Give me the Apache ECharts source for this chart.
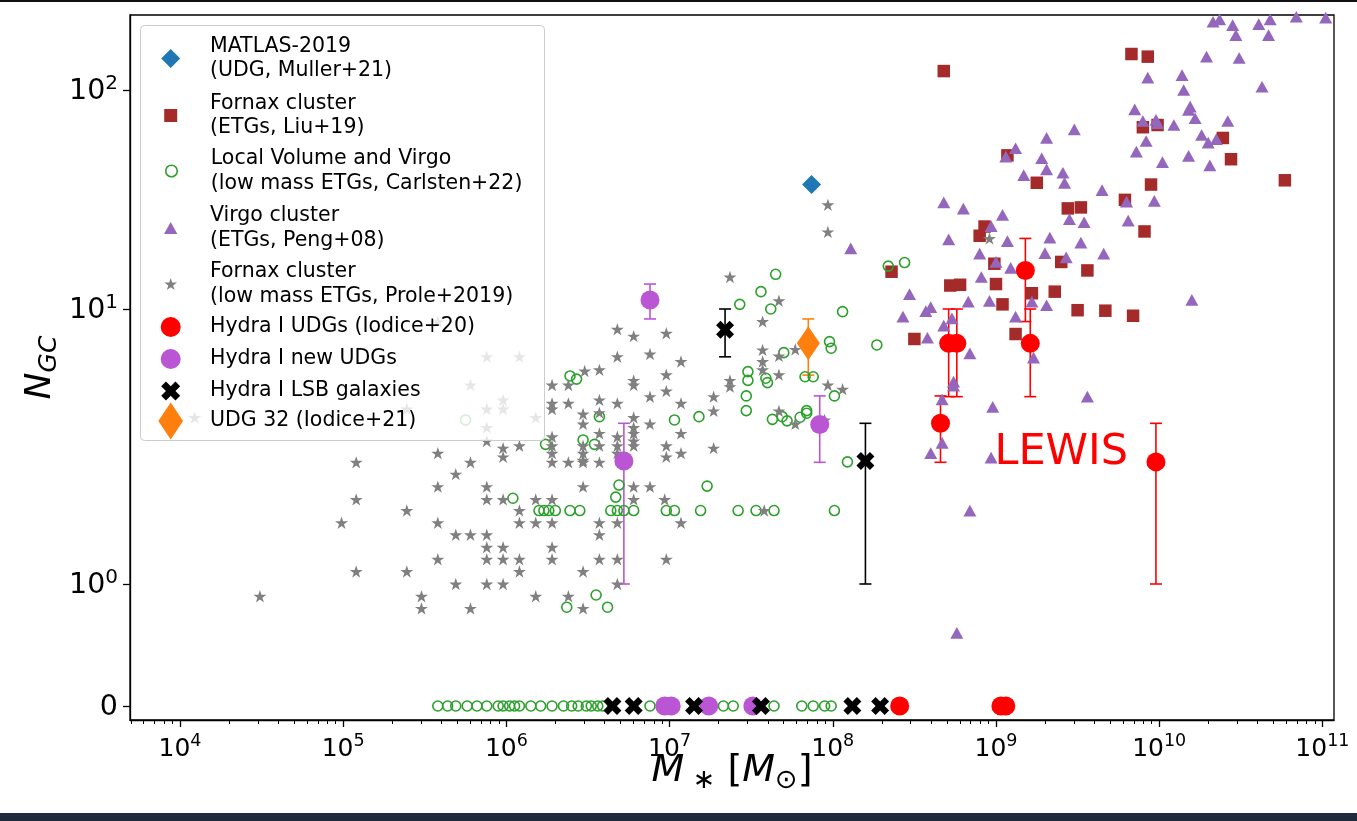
<!DOCTYPE html>
<html><head><meta charset="utf-8">
<script src="https://cdn.jsdelivr.net/npm/echarts@6/dist/echarts.min.js"></script>
<style>html,body{margin:0;padding:0;background:#fff}#c{width:1357px;height:821px}</style>
</head><body><div id="c"></div><script>
// ---------------- data (x = log10 of stellar mass, y = number of GCs) ----------------
const seriesNames = [
  'MATLAS-2019\n(UDG, Muller+21)',
  'Fornax cluster\n(ETGs, Liu+19)',
  'Local Volume and Virgo\n(low mass ETGs, Carlsten+22)',
  'Virgo cluster\n(ETGs, Peng+08)',
  'Fornax cluster\n(low mass ETGs, Prole+2019)',
  'Hydra I UDGs (Iodice+20)',
  'Hydra I new UDGs',
  'Hydra I LSB galaxies',
  'UDG 32 (Iodice+21)'
];

const matlasLogM = [7.87];
const matlasN = [37];

const liuLogM = [8.68,9.83,9.93,10.77,10.44,10.39,9.90,9.99,9.95,9.79,9.91,9.25,9.44,9.52,9.07,8.93,8.90,8.99,9.40,9.56,8.72,8.78,9.00,9.04,9.22,9.36,9.50,9.67,9.84,8.36,8.50,9.12];
const liuN = [122,146,142,38.7,48.3,60.4,67.6,69.2,37.0,31.5,22.6,37.7,28.8,29.1,50.3,23.8,21.6,16.1,16.4,15.0,12.8,12.9,13.0,10.5,11.8,12.0,9.9,9.86,9.45,14.8,7.78,8.11];

const carlstenLogM = [6.39,6.43,6.57,6.24,6.47,6.54,6.69,6.67,6.04,
  6.20,6.23,6.26,6.30,6.39,6.45,6.64,6.68,6.72,6.78,6.98,7.03,7.19,7.42,7.53,7.64,8.01,
  6.55,6.37,6.62,5.75,
  7.65,7.56,7.43,7.62,8.06,8.34,8.44,7.98,7.99,7.70,8.27,7.48,7.48,7.59,7.60,7.83,7.88,7.47,7.47,8.01,7.18,7.03,7.63,7.69,7.72,7.80,7.84,7.84,8.09,7.23,
  5.58,5.64,5.69,5.76,5.82,5.88,5.95,5.98,6.02,6.05,6.08,6.15,6.21,6.28,6.35,6.40,6.44,6.49,6.52,6.56,6.59,6.88,7.33,7.39,7.64,7.81,7.88,7.95,7.99];
const carlstenN = [5.71,5.56,4.06,3.22,3.34,3.22,2.29,2.07,2.05,
  1.85,1.85,1.85,1.85,1.85,1.85,1.85,1.85,1.85,1.85,1.85,1.85,1.85,1.85,1.85,1.85,1.85,
  0.91,0.81,0.81,3.95,
  14.4,12.0,10.5,10.0,9.78,15.7,16.3,7.61,7.20,6.94,7.40,5.92,5.50,5.60,5.40,5.67,5.67,4.83,4.27,4.83,4.06,3.95,3.97,4.06,3.92,4.04,4.18,4.27,2.78,2.27,
  0,0,0,0,0,0,0,0,0,0,0,0,0,0,0,0,0,0,0,0,0,0,0,0,0,0,0,0,0];

const pengLogM = [10.33,10.37,10.45,10.47,10.61,10.68,10.67,10.84,11.02,10.29,
  10.49,9.93,10.14,10.15,10.63,9.85,10.19,10.18,9.90,9.98,
  9.99,10.09,10.22,10.42,10.26,10.30,10.35,9.92,9.86,10.02,
  10.18,10.31,9.48,9.31,9.12,9.06,9.28,9.31,9.41,9.42,
  9.17,9.65,9.80,9.97,9.81,9.45,9.54,8.68,8.80,9.04,
  8.97,8.71,9.07,9.33,9.52,9.30,9.43,9.66,8.90,9.00,
  9.09,8.91,8.47,8.60,8.57,8.43,8.83,8.96,9.22,9.31,
  9.12,8.73,8.68,8.58,10.20,8.84,8.74,8.74,8.67,8.98,
  9.56,8.67,8.60,8.97,9.23,8.84,8.76,8.11];
const pengN = [205,210,198,178,200,210,178,216,214,142,
  140,114,117,100,103.5,81.6,83.9,81.1,72.2,73.0,
  70.5,69.2,74.3,72.2,62.3,57.5,59.6,58.5,52.3,46.8,
  50.0,45.3,66.1,60.5,54.2,49.6,48.8,43.4,41.9,37.7,
  40.9,34.9,30.9,31.2,25.3,25.7,24.9,30.7,28.7,26.9,
  23.9,20.8,20.4,21.2,20.1,18.0,17.2,17.9,17.9,16.4,
  15.4,14.0,11.7,10.2,9.83,9.38,10.8,10.9,10.8,10.4,
  9.38,9.25,8.7,7.86,11.0,6.9,5.44,5.26,4.69,4.41,
  4.80,3.26,2.99,2.88,6.65,1.85,0.60,18.9];

const proleLogM = [6.68,6.78,6.68,6.57,6.48,6.78,6.78,6.28,6.38,6.28,
  6.38,6.57,6.68,6.28,6.47,6.57,6.78,6.78,6.78,6.78,
  6.78,6.47,6.57,6.68,6.28,6.08,5.98,5.98,6.28,6.28,
  6.47,6.47,6.47,6.57,6.68,6.68,5.58,5.08,5.78,6.28,
  6.38,6.47,6.57,5.69,5.58,5.88,6.47,6.78,5.08,5.88,
  5.98,6.18,6.28,6.78,5.39,6.08,4.99,5.58,6.08,6.18,
  6.28,6.57,6.68,5.69,5.78,5.88,6.57,5.88,5.98,6.28,
  5.58,5.88,5.98,6.08,6.28,6.57,6.68,5.08,5.39,6.08,
  6.47,5.69,5.88,5.98,6.68,4.49,5.48,6.18,6.38,5.48,
  5.78,6.47,
  5.58,5.88,6.08,5.78,5.98,5.98,5.88,5.88,6.18,5.39,5.88,4.09,
  7.97,7.97,7.37,7.67,7.57,6.98,6.88,7.07,7.57,7.67,
  7.77,6.98,7.57,7.57,7.67,7.37,7.37,7.97,8.06,6.88,
  6.98,7.27,7.27,7.07,7.67,7.77,7.95,6.88,7.07,6.98,
  6.98,7.07,7.27,6.88,6.97,7.07,6.98,7.58,8.96];
const proleN = [8.44,7.97,6.71,6.01,5.95,5.50,5.29,5.29,5.29,4.54,
  4.54,4.67,4.54,4.33,4.15,4.20,4.03,3.71,3.53,3.31,
  3.18,3.82,3.53,3.43,3.43,3.18,3.12,2.90,3.18,2.99,
  3.18,2.99,2.82,3.18,3.18,2.99,2.99,2.77,2.77,2.77,
  2.77,2.77,2.77,2.51,2.26,2.26,2.26,2.26,2.03,2.03,
  2.03,2.03,2.03,2.03,1.85,1.85,1.67,1.67,1.67,1.67,
  1.67,1.67,1.67,1.51,1.51,1.51,1.51,1.36,1.36,1.36,
  1.23,1.23,1.23,1.23,1.23,1.23,1.23,1.11,1.11,1.11,
  1.11,1.00,1.00,1.00,1.00,0.90,0.90,0.90,0.90,0.80,
  0.80,0.80,
  8.99,6.71,6.71,5.29,4.67,4.33,4.33,3.71,4.03,4.33,3.31,4.03,
  29.9,22.5,14.0,10.9,9.0,8.16,6.86,6.44,7.10,6.75,
  7.13,5.77,6.44,6.01,5.77,5.50,5.22,5.29,5.11,4.80,
  5.03,4.80,4.26,4.54,4.26,3.82,3.95,3.82,3.53,3.18,
  2.90,2.99,3.12,2.26,2.03,1.67,1.23,1.85,21.0];

const hydraUdgLogM = [8.66,8.71,8.76,9.18,9.21,9.98,8.41,9.03,9.06];
const hydraUdgN    = [3.84,7.5,7.5,15,7.5,2.78,0,0,0];
const hydraUdgLo   = [2.77,4.8,4.8,9,4.8,1.0,null,null,null];
const hydraUdgHi   = [4.83,10,10,21,10,3.84,null,null,null];

const newUdgLogM = [6.88,6.72,7.92,6.97,7.01,7.24,7.51];
const newUdgN    = [11,2.8,3.8,0,0,0,0];
const newUdgLo   = [9.2,1.0,2.77,null,null,null,null];
const newUdgHi   = [13,3.84,4.83,null,null,null,null];

const lsbLogM = [7.34,8.20,6.65,6.78,7.15,7.56,8.12,8.29];
const lsbN    = [8.4,2.8,0,0,0,0,0,0];
const lsbLo   = [6.7,1.0,null,null,null,null,null,null];
const lsbHi   = [10,3.84,null,null,null,null,null,null];

const udg32LogM = [7.85];
const udg32N    = [7.5];
const udg32Lo   = [5.75];
const udg32Hi   = [9.2];

const xTickExponents = [4,5,6,7,8,9,10,11];
const yTickCounts = [0,1,10,100];
const annotationText = 'LEWIS';
const annotationLogM = [9.40];
const annotationN = [3.0];

// ---------------- scales ----------------
// y axis: linear between 0 and 1, then logarithmic decades (as drawn in the figure)
const DEC1 = 275/122, DEC2 = 219/122;
function yT(n){ if (n <= 1) return n; const l = Math.log10(n); return l <= 1 ? 1 + l*DEC1 : 1 + DEC1 + (l-1)*DEC2; }
const Y_MIN = -14/122, Y_MAX = 691/122;
const X_MIN = 3.694, X_MAX = 11.071;

const pts = (xs, ns) => xs.map((x,i) => [x, yT(ns[i])]);
const errs = (xs, lo, hi) => xs.map((x,i) => lo[i]==null ? null : [x, yT(lo[i]), yT(hi[i])]).filter(Boolean);

const minorTicks = [];
for (let n = 3; n <= 11; n++) for (let k = 2; k <= 9; k++) { const v = n + Math.log10(k); if (v > X_MIN && v < X_MAX) minorTicks.push(v); }
const yTickVals = yTickCounts.map(yT);

// ---------------- symbols ----------------
const SQUARE = 'path://M0,0 L1,0 L1,1 L0,1 Z';
const DIAMOND = 'path://M0,-1 L1,0 L0,1 L-1,0 Z';
const THIN_DIAMOND = 'path://M0,-1.45 L0.97,0 L0,1.45 L-0.97,0 Z';
const TRIANGLE = 'path://M0.5,0 L1,0.9 L0,0.9 Z';
const STAR = 'path://M0,-1 L0.2245,-0.309 L0.951,-0.309 L0.363,0.118 L0.588,0.809 L0,0.382 L-0.588,0.809 L-0.363,0.118 L-0.951,-0.309 L-0.2245,-0.309 Z';
const XMARK = 'path://M-1,-0.5 L-0.5,-1 L0,-0.5 L0.5,-1 L1,-0.5 L0.5,0 L1,0.5 L0.5,1 L0,0.5 L-0.5,1 L-1,0.5 L-0.5,0 Z';

const FONT = 'DejaVu Sans';
const xTickRich = {
  b: {fontFamily: FONT, fontSize: 25, color: '#000', lineHeight: 30, verticalAlign: 'bottom'},
  s: {fontFamily: FONT, fontSize: 17.5, color: '#000', lineHeight: 14, verticalAlign: 'top'}
};
const yTickRich = {
  b: {fontFamily: FONT, fontSize: 28.5, color: '#000', lineHeight: 33, verticalAlign: 'bottom'},
  s: {fontFamily: FONT, fontSize: 20, color: '#000', lineHeight: 15, verticalAlign: 'top'}
};

function errorSeries(data, color, name){
  return {
    type: 'custom', name: name + '_err', data: data, encode: {x: 0, y: [1, 2]}, silent: true,
    renderItem: function(params, api){
      const x = api.value(0);
      const p1 = api.coord([x, api.value(1)]);
      const p2 = api.coord([x, api.value(2)]);
      const cw = 6, st = {stroke: color, lineWidth: 1.6};
      return {type: 'group', children: [
        {type: 'line', shape: {x1: p1[0], y1: p1[1], x2: p2[0], y2: p2[1]}, style: st},
        {type: 'line', shape: {x1: p1[0]-cw, y1: p1[1], x2: p1[0]+cw, y2: p1[1]}, style: st},
        {type: 'line', shape: {x1: p2[0]-cw, y1: p2[1], x2: p2[0]+cw, y2: p2[1]}, style: st}
      ]};
    }
  };
}

const series = [
  {type:'scatter', name: seriesNames[0], data: pts(matlasLogM, matlasN), symbol: DIAMOND, symbolKeepAspect: true, symbolSize: 19, itemStyle: {color: '#1f77b4', opacity: 1}},
  {type:'scatter', name: seriesNames[1], data: pts(liuLogM, liuN), symbol: SQUARE, symbolKeepAspect: true, symbolSize: 12.5, itemStyle: {color: '#a52a2a', opacity: 1}},
  {type:'scatter', name: seriesNames[2], data: pts(carlstenLogM, carlstenN), symbol: 'circle', symbolSize: 10, itemStyle: {color: 'rgba(0,0,0,0)', borderColor: '#2ca02c', borderWidth: 1.6, opacity: 1}},
  {type:'scatter', name: seriesNames[3], data: pts(pengLogM, pengN), symbol: TRIANGLE, symbolKeepAspect: true, symbolSize: 13, itemStyle: {color: '#9467bd', opacity: 1}},
  {type:'scatter', name: seriesNames[4], data: pts(proleLogM, proleN), symbol: STAR, symbolKeepAspect: true, symbolSize: 13, itemStyle: {color: '#808080', opacity: 1}},
  errorSeries(errs(hydraUdgLogM, hydraUdgLo, hydraUdgHi), '#ff0000', seriesNames[5]),
  {type:'scatter', name: seriesNames[5], data: pts(hydraUdgLogM, hydraUdgN), symbol: 'circle', symbolSize: 19, itemStyle: {color: '#ff0000', opacity: 1}},
  errorSeries(errs(newUdgLogM, newUdgLo, newUdgHi), '#ba55d3', seriesNames[6]),
  {type:'scatter', name: seriesNames[6], data: pts(newUdgLogM, newUdgN), symbol: 'circle', symbolSize: 19, itemStyle: {color: '#ba55d3', opacity: 1}},
  errorSeries(errs(lsbLogM, lsbLo, lsbHi), '#000000', seriesNames[7]),
  {type:'scatter', name: seriesNames[7], data: pts(lsbLogM, lsbN), symbol: XMARK, symbolKeepAspect: true, symbolSize: 18, itemStyle: {color: '#000000', opacity: 1}},
  errorSeries(errs(udg32LogM, udg32Lo, udg32Hi), '#ff7f0e', seriesNames[8]),
  {type:'scatter', name: seriesNames[8], data: pts(udg32LogM, udg32N), symbol: THIN_DIAMOND, symbolKeepAspect: false, symbolSize: [23, 34], itemStyle: {color: '#ff7f0e', opacity: 1}},
  {type:'scatter', name: 'annotation', data: pts(annotationLogM, annotationN), symbol: 'circle', symbolSize: 1, silent: true,
   itemStyle: {color: 'rgba(0,0,0,0)', opacity: 1},
   label: {show: true, position: 'inside', formatter: annotationText, color: '#ff0000', opacity: 1, fontSize: 43, fontFamily: FONT}}
];

// legend entries: icon center y, icon height, icon aspect (w/h), text lines
const legendLayout = [
  {cy: 58.5, h: 19, a: 1, lines: 2},
  {cy: 115.5, h: 13, a: 1, lines: 2},
  {cy: 171, h: 11.5, a: 1, lines: 2, style: {color: 'rgba(0,0,0,0)', borderColor: '#2ca02c', borderWidth: 1.6}},
  {cy: 228, h: 12, a: 1/0.9, lines: 2},
  {cy: 284, h: 12, a: 1.902/1.809, lines: 2},
  {cy: 327, h: 20, a: 1, lines: 1},
  {cy: 359, h: 20, a: 1, lines: 1},
  {cy: 391, h: 19, a: 1, lines: 1},
  {cy: 421, h: 37, a: 1.94/2.9, lines: 1}
];
const LH = 24.5, ICON_CX = 170.7, TEXT_X = 210, IW = 2*(TEXT_X - 5 - ICON_CX);
const legends = legendLayout.map((L, i) => ({
  orient: 'vertical', left: ICON_CX - L.h*L.a/2, top: L.cy - Math.max(L.h, L.lines*LH)/2,
  padding: 0, itemGap: 0, itemWidth: IW, itemHeight: L.h, selectedMode: false, z: 60,
  data: [seriesNames[i]],
  itemStyle: L.style || {borderWidth: 0, opacity: 1},
  textStyle: {fontFamily: FONT, fontSize: 20.5, lineHeight: LH, color: '#000'}
}));

const chart = echarts.init(document.getElementById('c'), null, {renderer: 'canvas'});
chart.setOption({
  animation: false,
  backgroundColor: '#ffffff',
  grid: {left: 130, top: 15, width: 1204, height: 705, show: true, borderColor: '#000', borderWidth: 1.3, backgroundColor: 'rgba(0,0,0,0)'},
  xAxis: [
    {type: 'value', min: X_MIN, max: X_MAX, position: 'bottom',
     axisLine: {show: true, onZero: false, lineStyle: {color: '#000', width: 1.3}},
     axisTick: {show: true, customValues: xTickExponents, length: 7, lineStyle: {color: '#000', width: 1.3}},
     axisLabel: {customValues: xTickExponents, margin: 12, formatter: v => '{b|10}{s|' + Math.round(v) + '}', rich: xTickRich},
     splitLine: {show: false},
     name: '{m|M}{u| ∗}{t| [}{m|M}{u|⊙}{t|]}', nameLocation: 'middle', nameGap: 28, nameMoveOverlap: false,
     nameTextStyle: {rich: {
       m: {fontFamily: FONT, fontStyle: 'italic', fontSize: 38, color: '#000', lineHeight: 46},
       t: {fontFamily: FONT, fontSize: 38, color: '#000', lineHeight: 46},
       u: {fontFamily: FONT, fontSize: 27, color: '#000', lineHeight: 34, verticalAlign: 'bottom'}
     }}},
    {type: 'value', min: X_MIN, max: X_MAX, position: 'bottom',
     axisLine: {show: false, onZero: false}, axisLabel: {show: false}, splitLine: {show: false},
     axisTick: {show: true, customValues: minorTicks, length: 4, lineStyle: {color: '#000', width: 1}}}
  ],
  yAxis: {type: 'value', min: Y_MIN, max: Y_MAX,
    axisLine: {show: true, onZero: false, lineStyle: {color: '#000', width: 1.3}},
    axisTick: {show: true, customValues: yTickVals, length: 7, lineStyle: {color: '#000', width: 1.3}},
    axisLabel: {customValues: yTickVals, margin: 12, rich: yTickRich, formatter: v => {
      const i = yTickVals.findIndex(t => Math.abs(t - v) < 1e-6);
      const c = yTickCounts[i];
      return c === 0 ? '{b|0}' : '{b|10}{s|' + Math.round(Math.log10(c)) + '}';
    }},
    splitLine: {show: false},
    name: '{n|N}{g|GC}', nameLocation: 'middle', nameRotate: 90, nameGap: 68, nameMoveOverlap: false,
    nameTextStyle: {rich: {
      n: {fontFamily: FONT, fontStyle: 'italic', fontSize: 36, color: '#000', lineHeight: 42},
      g: {fontFamily: FONT, fontStyle: 'italic', fontSize: 25, color: '#000', lineHeight: 25, verticalAlign: 'bottom'}
    }}
  },
  legend: legends,
  graphic: [
    {type: 'rect', z: 50, shape: {x: 140.5, y: 25.5, width: 404, height: 415, r: 4}, style: {fill: 'rgba(255,255,255,0.8)', stroke: '#cccccc', lineWidth: 1}},
    {type: 'rect', z: 50, shape: {x: 0, y: 0, width: 1357, height: 2}, style: {fill: '#111111'}},
    {type: 'rect', z: 50, shape: {x: 0, y: 813, width: 1357, height: 8}, style: {fill: '#1f2b3d'}}
  ],
  series: series
});
</script></body></html>
